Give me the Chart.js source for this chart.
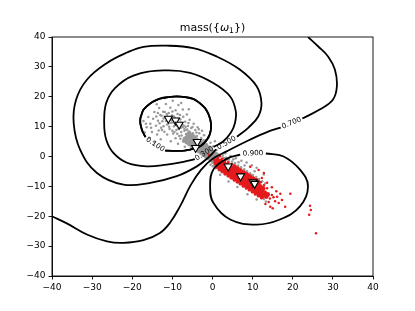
<!DOCTYPE html>
<html><head><meta charset="utf-8">
<script src="https://cdn.jsdelivr.net/npm/chart.js@4/dist/chart.umd.min.js"></script>
<style>html,body{margin:0;padding:0;background:#fff;}</style>
</head><body>
<canvas id="c" width="415" height="311"></canvas>
<script>
// ---- data ----
const tickValues = [-40,-30,-20,-10,0,10,20,30,40];
const levelLabels = ['0.100','0.300','0.500','0.700','0.900'];
const labelX = [-14.3,-2.0,3.5,19.7,10.1];
const labelY = [4.0,1.0,4.5,11.2,1.0];

const c010Upper = [[-0.4,9.0],[-0.35,10.8],[-0.6,12.6],[-1.1,14.5],[-1.9,16.3],[-3.2,17.9],[-4.8,19.3],[-6.8,19.9],[-8.9,20.1],[-11.0,19.9],[-13.1,19.4],[-14.9,18.3],[-16.4,16.8],[-17.3,15.5],[-17.7,14.0],[-18.0,12.6],[-18.0,11.2],[-17.8,9.9],[-17.5,8.6],[-17.1,7.5],[-16.7,6.5]];
const c010Lower = [[-11.8,2.0],[-10.1,1.9],[-8.5,1.9],[-7.0,2.0],[-5.6,2.3],[-4.3,2.8],[-3.1,3.4],[-2.1,4.5],[-1.3,5.8],[-0.7,7.3],[-0.4,9.0]];
const c030 = [[0.3,3.2],[2.7,5.1],[4.6,8.0],[5.6,11.2],[5.8,15.2],[4.4,20.1],[0.2,24.6],[-5.6,28.0],[-12.2,28.8],[-19.7,27.1],[-24.3,22.9],[-26.5,17.9],[-27.0,11.2],[-26.5,5.7],[-24.7,1.2],[-21.3,-2.1],[-16.4,-3.3],[-11.4,-2.7],[-7.0,-1.7],[-4.4,-0.9]];
const c050 = [[6.1,6.6],[8.9,9.6],[11.4,13.4],[12.2,17.9],[11.0,23.5],[6.8,29.1],[1.0,33.5],[-4.8,36.3],[-11.4,37.1],[-17.2,36.7],[-21.3,34.8],[-26.3,31.3],[-31.3,25.7],[-34.0,19.0],[-34.6,11.2],[-33.0,2.3],[-28.8,-5.5],[-22.2,-9.4],[-15.5,-8.8],[-8.9,-6.6],[-3.9,-3.3],[-1.0,-0.3],[0.9,2.4]];
const c070 = [[-40,-20],[-36.3,-22.4],[-31.3,-26.1],[-26.3,-28.4],[-22.2,-28.9],[-17.2,-28.0],[-13.1,-25.6],[-10.6,-22.2],[-8.1,-16.7],[-5.4,-9.5],[-2.8,-4.4],[0.0,-0.8],[3.5,1.7],[9.3,5.6],[14.0,8.4],[17.0,9.7],null,[22.4,12.7],[26.7,15.7],[30.0,19.0],[31.0,23.5],[30.5,29.1],[28.8,33.5],[26.3,36.9],[23.8,40]];
const c090 = [[13.3,1.0],[17.6,0.1],[21.8,-4.4],[23.8,-10.0],[21.8,-16.7],[16.8,-21.1],[11.0,-22.8],[4.4,-21.1],[0.2,-15.5],[-0.6,-10.0],[0.2,-4.4],[3.5,-0.8],[6.9,0.6]];

const triangles = [[-11.0,12.7],[-9.2,12.1],[-8.3,10.7],[-3.8,4.9],[-4.2,2.9],[3.9,-3.3],[7.0,-6.6],[10.1,-8.6],[10.5,-9.1]];

// sparse gray cloud points
const grayUpper = [[-17.2,11.9],[-16.4,9.8],[-16.0,13.2],[-15.5,11.0],[-15.1,8.2],[-14.8,12.6],[-14.5,14.9],[-14.1,10.3],[-13.8,7.4],[-13.6,12.0],[-13.3,16.2],[-13.0,13.9],[-12.8,9.6],[-12.5,11.8],[-12.3,15.0],[-12.0,8.3],[-11.8,13.1],[-11.6,17.6],[-11.3,10.7],[-11.1,12.4],[-10.9,14.6],[-10.7,9.2],[-10.5,16.3],[-10.3,11.3],[-10.1,13.7],[-9.9,18.7],[-9.8,7.7],[-9.6,10.1],[-9.4,12.9],[-9.2,15.5],[-9.0,8.9],[-8.9,11.6],[-8.7,14.2],[-8.5,17.2],[-8.3,6.9],[-8.2,9.9],[-8.0,12.4],[-7.8,8.2],[-7.6,10.9],[-7.4,15.7],[-7.3,13.3],[-7.1,6.2],[-7.0,9.3],[-6.8,11.6],[-6.6,7.5],[-6.4,14.1],[-6.3,5.2],[-6.1,10.2],[-5.9,8.4],[-5.7,12.3],[-5.5,6.6],[-5.3,9.5],[-5.1,4.4],[-4.9,7.8],[-4.7,11.0],[-4.5,5.9],[-4.3,8.9],[-4.1,3.6],[-3.9,6.9],[-3.7,9.8],[-3.5,5.0],[-3.3,7.8],[-3.0,3.1],[-2.8,6.2],[-2.6,8.6],[-2.3,4.6],[-2.1,7.1],[-1.8,2.4],[-1.6,5.5],[-1.3,3.8],[-1.0,6.4],[-0.8,2.2],[-0.5,4.6],[-0.2,1.3],[0.2,3.4],[0.6,5.1],[1.0,2.2],[-15.8,6.3],[-12.9,5.8],[-10.4,5.1],[-8.6,4.3],[-6.9,3.3],[-13.9,17.5],[-11.9,19.6],[-7.8,17.9],[-5.9,15.8],[-16.9,8.0],[-14.6,4.9],
[-12.2,12.7],[-11.6,11.9],[-11.0,11.1],[-10.4,12.3],[-9.8,11.4],[-9.3,10.6],[-8.8,10.3],[-8.4,11.2],[-7.9,9.6],[-7.4,9.9],[-7.0,8.6],[-6.5,8.9],[-6.1,7.8],[-11.4,14.2],[-10.0,15.1],[-8.1,13.9],[-6.0,11.2],[-5.0,9.9],[-4.0,8.0],[-13.2,11.1],[-12.2,10.1],[-10.8,10.0],[-9.5,8.2],[-8.8,7.6],[-7.7,7.0],[-6.9,5.6],[-14.0,13.4],[-15.3,9.6],[-16.6,11.0],[-13.4,8.7],[-11.3,7.4],[-9.2,6.1],[-7.3,5.0],[-3.4,9.1],[-2.2,5.4],[-1.5,4.2],[-0.6,3.3],
[-12.7,13.6],[-11.9,14.9],[-11.3,13.5],[-10.6,13.0],[-10.1,12.1],[-9.6,13.4],[-9.1,11.8],[-8.6,12.7],[-8.5,9.2],[-7.9,11.3],[-7.2,10.4],[-6.7,10.0],[-6.3,9.0],[-5.6,8.1],[-5.2,7.3],[-4.6,7.0],[-13.6,14.6],[-12.6,8.9],[-10.0,8.6],[-8.0,5.9]];
// dense gray neck (drawn with larger dots)
const grayNeck = [[-7.0,5.4],[-6.6,6.1],[-6.2,6.8],[-5.8,7.5],[-6.4,4.8],[-6.0,5.5],[-5.6,6.2],[-5.2,6.9],[-5.8,4.2],[-5.4,4.9],[-5.0,5.6],[-4.6,6.3],[-5.2,3.6],[-4.8,4.3],[-4.4,5.0],[-4.0,5.7],[-4.6,3.0],[-4.2,3.7],[-3.8,4.4],[-3.4,5.1],[-4.0,2.4],[-3.6,3.1],[-3.2,3.8],[-2.8,4.5],[-3.4,1.8],[-3.0,2.5],[-2.6,3.2],[-2.2,3.9],[-2.8,1.2],[-2.4,1.9],[-2.0,2.6],[-1.6,3.3],[-2.2,0.6],[-1.8,1.3],[-1.4,2.0],[-1.0,2.7],[-1.6,0.0],[-1.2,0.7],[-0.8,1.4],[-0.4,2.1],[-1.0,-0.6],[-0.6,0.1],[-0.2,0.8],[0.2,1.5],[-0.4,-1.2],[0.0,-0.5],[0.4,0.2],[0.8,0.9],[0.2,-1.8],[0.6,-1.1],[1.0,-0.4],[1.4,0.3]];
// gray visible around the red band
const grayLower = [[2.6,0.3],[3.4,-0.4],[4.1,-1.0],[4.9,-1.7],[5.6,-2.3],[6.4,-3.0],[7.1,-3.6],[7.9,-4.3],[8.6,-4.9],[9.4,-5.6],[10.1,-6.2],[10.9,-6.9],[11.6,-7.5],[12.4,-8.3],[13.1,-9.0],[4.5,0.2],[5.8,-0.6],[7.2,-1.4],[8.5,-2.0],[9.8,-2.9],[11.0,-3.8],[6.5,-1.9],[8.0,-3.0],[10.5,-4.9],[12.8,-6.0],[3.2,1.1],[5.2,-0.9],[0.1,-3.3],[0.8,-3.9],[1.6,-4.6],[2.3,-5.2],[3.1,-5.9],[3.8,-6.5],[4.6,-7.2],[5.3,-7.8],[6.1,-8.5],[6.8,-9.1],[7.6,-9.8],[8.3,-10.4],[9.1,-11.1],[9.8,-11.7],[10.6,-12.4],[11.3,-13.0],[12.1,-13.7],[12.8,-14.2],[-0.5,-2.8],[1.9,-6.1],[4.0,-8.4],[6.2,-10.2],[8.7,-12.6],[11.0,-14.4],[13.3,-15.1],
[1.8,0.2],[2.9,-0.6],[3.9,-1.7],[5.0,-2.6],[6.0,-3.5],[7.0,-4.3],[8.0,-5.1],[9.0,-6.0],[10.0,-6.9],[11.0,-7.8],[12.0,-8.6],[0.5,-2.9],[1.3,-3.8],[2.2,-4.7],[3.0,-5.4],[3.9,-6.1],[4.8,-6.9],[5.7,-7.6],[6.6,-8.4],[7.5,-9.2],[8.4,-10.0],[9.3,-10.7],[10.2,-11.5],[11.1,-12.3],[12.0,-13.0]];
// dense red core (larger dots)
const redCore = [[0.8,-1.8],[1.2,-1.1],
[1.4,-2.9],[1.75,-2.2],[2.1,-1.5],
[1.8,-4.1],[2.15,-3.5],[2.5,-2.8],[2.85,-2.1],
[2.55,-4.8],[2.9,-4.2],[3.25,-3.5],[3.6,-2.8],
[3.3,-5.5],[3.65,-4.8],[4.0,-4.1],[4.35,-3.4],
[4.05,-6.2],[4.4,-5.5],[4.75,-4.8],[5.1,-4.1],[5.45,-3.4],
[4.8,-6.9],[5.15,-6.2],[5.5,-5.5],[5.85,-4.8],[6.2,-4.1],
[5.55,-7.5],[5.9,-6.8],[6.25,-6.1],[6.6,-5.4],[6.95,-4.7],
[6.3,-8.2],[6.65,-7.5],[7.0,-6.8],[7.35,-6.1],[7.7,-5.4],
[7.05,-8.8],[7.4,-8.1],[7.75,-7.4],[8.1,-6.7],[8.45,-6.0],
[7.8,-9.5],[8.15,-8.8],[8.5,-8.1],[8.85,-7.4],[9.2,-6.7],
[8.55,-10.2],[8.9,-9.5],[9.25,-8.8],[9.6,-8.1],[9.95,-7.4],
[9.3,-10.8],[9.65,-10.1],[10.0,-9.4],[10.35,-8.7],[10.7,-8.0],
[10.05,-11.5],[10.4,-10.8],[10.75,-10.1],[11.1,-9.4],[11.45,-8.7],
[10.8,-12.1],[11.15,-11.4],[11.5,-10.7],[11.85,-10.0],
[11.55,-12.8],[11.9,-12.1],[12.25,-11.4],[12.6,-10.7],
[12.3,-13.5],[12.65,-12.8],[13.0,-12.1],
[13.4,-13.4],[13.75,-12.7]];
// scattered red points
const redSparse = [[0.65,-2.6],[1.35,-0.5],[1.05,-3.7],[2.45,-0.7],[3.2,-1.2],[3.95,-1.9],[4.7,-2.5],[5.5,-3.1],[6.3,-3.8],[7.1,-4.5],[7.9,-5.1],[8.7,-5.8],[9.5,-6.4],[10.3,-7.1],[11.1,-7.7],[12.0,-8.6],[12.8,-9.6],[13.6,-10.6],[2.4,-5.2],[3.1,-5.9],[3.9,-6.6],[4.6,-7.3],[5.4,-8.0],[6.1,-8.6],[6.9,-9.3],[7.6,-10.0],[8.4,-10.7],[9.1,-11.3],[9.9,-12.0],[10.6,-12.7],[11.4,-13.3],[12.2,-14.0],
[14.3,-14.1],[14.8,-12.9],[15.2,-13.6],[14.0,-15.2],[14.4,-16.8],[15.6,-15.0],[16.5,-15.6],[16.9,-12.5],[17.3,-14.6],[18.1,-16.8],[15.9,-11.6],[14.8,-10.3],[19.4,-12.5],[24.3,-16.5],[24.5,-17.9],[24.1,-19.5],[25.8,-25.7],[12.3,-7.2],[11.5,-4.5],[13.6,-8.8],[-0.9,0.6],[1.9,0.1],[0.3,-1.0],[3.5,-0.9],[9.4,-3.4],[12.8,-5.5],[16.1,-13.5],[13.2,-15.9],[15.0,-17.3]];

// ---- helpers ----
const toXY = arr => arr.map(p => p ? {x:p[0], y:p[1]} : {x:null, y:null});
const fmt = v => v < 0 ? '\u2212' + Math.abs(v) : String(v);
const FONT = "'DejaVu Sans', sans-serif";

const contour = (label, arr, tension) => ({label, data:toXY(arr), showLine:true, borderColor:'#000', borderWidth:1.8, borderJoinStyle:'round', pointRadius:0, tension, fill:false, spanGaps:false, order:1});
// 0.100 loop: two arcs (gap at its label) plus a smooth reversed copy of the same read points
const c010Smooth = c010Lower.slice().reverse().concat([null], c010Upper.slice().reverse());

const labelAngles = [33,-33,-30,-22,-2];
const contourLabels = {
  id:'contourLabels',
  afterDatasetsDraw(chart){
    const {ctx, scales:{x,y}} = chart;
    ctx.save();
    ctx.font = "7.2px " + FONT;
    ctx.fillStyle = '#000';
    ctx.textAlign = 'center';
    ctx.textBaseline = 'middle';
    levelLabels.forEach((t,i)=>{
      ctx.save();
      ctx.translate(x.getPixelForValue(labelX[i]), y.getPixelForValue(labelY[i]));
      ctx.rotate(labelAngles[i]*Math.PI/180);
      ctx.fillText(t,0,0);
      ctx.restore();
    });
    ctx.restore();
  }
};
const frameAndTitle = {
  id:'frameAndTitle',
  afterDraw(chart){
    const {ctx, chartArea:a} = chart;
    ctx.save();
    ctx.strokeStyle = '#000';
    ctx.lineWidth = 0.9;
    ctx.strokeRect(a.left, a.top, a.right-a.left, a.bottom-a.top);
    const parts = [
      {t:'mass({', f:'11px '+FONT, dy:0},
      {t:'\u03C9', f:'italic 11px '+FONT, dy:0},
      {t:'1', f:'7.7px '+FONT, dy:2.2},
      {t:'})', f:'11px '+FONT, dy:0}
    ];
    let w = 0;
    parts.forEach(p=>{ctx.font=p.f; p.w=ctx.measureText(p.t).width; w+=p.w;});
    let xx = (a.left+a.right)/2 - w/2;
    ctx.fillStyle='#000'; ctx.textBaseline='alphabetic'; ctx.textAlign='left';
    parts.forEach(p=>{ctx.font=p.f; ctx.fillText(p.t, xx, 31+p.dy); xx+=p.w;});
    ctx.restore();
  }
};

const axisCommon = {
  type:'linear', min:-40, max:40,
  grid:{drawOnChartArea:false, drawTicks:true, tickLength:3.5, color:'#000', tickColor:'#000', tickWidth:0.9},
  border:{display:true, color:'#000', width:0.9},
  ticks:{stepSize:10, color:'#000', font:{family:FONT, size:9}, padding:3, maxRotation:0, autoSkip:false, callback:v=>fmt(v)},
  afterBuildTicks: s => { s.ticks = tickValues.map(v=>({value:v})); }
};

new Chart(document.getElementById('c'), {
  type:'scatter',
  data:{ datasets:[
    {label:'gray', data:toXY(grayUpper.concat(grayLower)), pointRadius:1.25, borderWidth:0, backgroundColor:'#999999', order:5},
    {label:'grayNeck', data:toXY(grayNeck), pointRadius:2.3, borderWidth:0, backgroundColor:'#999999', order:4},
    {label:'redSparse', data:toXY(redSparse), pointRadius:1.25, borderWidth:0, backgroundColor:'#e41a1c', order:3},
    {label:'redCore', data:toXY(redCore), pointRadius:2.4, borderWidth:0, backgroundColor:'#e41a1c', order:2},
    contour('0.100 a', c010Upper, 0),
    contour('0.100 b', c010Lower, 0),
    contour('0.100', c010Smooth, 0.4),
    contour('0.300', c030, 0.4),
    contour('0.500', c050, 0.4),
    contour('0.700', c070, 0.4),
    contour('0.900', c090, 0.4),
    {label:'tri', data:toXY(triangles), pointStyle:'triangle', rotation:180, pointRadius:4.6, backgroundColor:'#fff', borderColor:'#000', borderWidth:1.1, order:0}
  ]},
  options:{
    responsive:false, animation:false, devicePixelRatio:1, events:[],
    layout:{padding:{left:0, right:42, top:37, bottom:0}},
    plugins:{legend:{display:false}, tooltip:{enabled:false}, title:{display:false}},
    scales:{
      x: Object.assign({}, axisCommon, {position:'bottom', afterFit:s=>{s.height=35;}}),
      y: Object.assign({}, axisCommon, {position:'left', afterFit:s=>{s.width=52;}})
    }
  },
  plugins:[contourLabels, frameAndTitle]
});
</script>
</body></html>
